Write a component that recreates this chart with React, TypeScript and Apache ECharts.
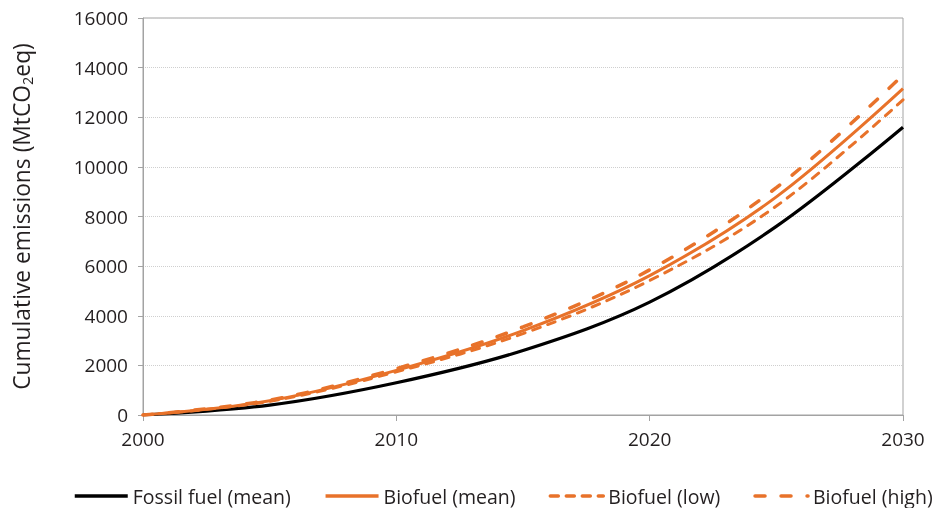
import React, { useEffect, useRef } from "react";
import * as echarts from "echarts";

const years = [2000, 2005, 2010, 2015, 2020, 2025, 2030];
const fossilMean = [0, 400, 1300, 2600, 4550, 7600, 11600];
const biofuelMean = [0, 575, 1800, 3400, 5620, 8790, 13150];
const biofuelLow = [0, 550, 1740, 3280, 5420, 8420, 12700];
const biofuelHigh = [0, 600, 1870, 3550, 5850, 9160, 13700];
const seriesNames = ["Fossil fuel (mean)", "Biofuel (mean)", "Biofuel (low)", "Biofuel (high)"];

const FONT = "'Open Sans', 'Noto Sans', sans-serif";
const ORANGE = "#e8722a";
const AXIS = "#a3a3a3";
const TEXT = "#231f20";

function pairs(vals: number[]) {
  return years.map((y, i) => [y, vals[i]]);
}

export default function App() {
  const ref = useRef<HTMLDivElement>(null);
  useEffect(() => {
    if (!ref.current) return;
    const chart = echarts.init(ref.current, null, { renderer: "svg" });
    const common = { type: "line", smooth: 0.35, showSymbol: false, symbol: "none" };
    chart.setOption({
      animation: false,
      textStyle: { fontFamily: FONT },
      grid: { left: 143, right: 41, top: 18, bottom: 93, show: true, borderColor: AXIS, borderWidth: 1 },
      legend: {
        top: 481,
        left: 68,
        itemWidth: 53,
        itemHeight: 14,
        itemGap: 33,
        itemStyle: { opacity: 0, borderWidth: 0 },
        lineStyle: { width: 3.5 },
        textStyle: { fontSize: 19.5, color: TEXT, fontFamily: FONT },
        data: seriesNames,
      },
      xAxis: {
        type: "value",
        min: 2000,
        max: 2030,
        interval: 10,
        axisLine: { show: true, lineStyle: { color: AXIS, width: 1 } },
        axisTick: { show: true, length: 6, lineStyle: { color: AXIS } },
        axisLabel: { fontSize: 19, color: TEXT, margin: 14, fontFamily: FONT, formatter: (v: number) => String(v) },
        splitLine: { show: false },
      },
      yAxis: {
        type: "value",
        min: 0,
        max: 16000,
        interval: 2000,
        name: "{a|Cumulative emissions (MtCO}{s|2}{a|eq)}",
        nameLocation: "middle",
        nameGap: 108,
        nameRotate: 90,
        nameTextStyle: {
          rich: {
            a: { fontSize: 22.8, lineHeight: 28, color: TEXT, fontFamily: FONT, verticalAlign: "middle" },
            s: { fontSize: 14.5, lineHeight: 28, color: TEXT, fontFamily: FONT, verticalAlign: "bottom" },
          },
        },
        axisLine: { show: true, lineStyle: { color: AXIS, width: 1 } },
        axisTick: { show: true, length: 5, lineStyle: { color: AXIS } },
        axisLabel: { fontSize: 19, color: TEXT, margin: 15, fontFamily: FONT, formatter: (v: number) => String(v) },
        splitLine: { show: true, lineStyle: { color: "#cfcfcf", type: "dotted", width: 1 } },
      },
      series: [
        { ...common, name: seriesNames[0], data: pairs(fossilMean), z: 2, itemStyle: { color: "#000" }, lineStyle: { color: "#000", width: 3.2 } },
        { ...common, name: seriesNames[1], data: pairs(biofuelMean), z: 3, itemStyle: { color: ORANGE }, lineStyle: { color: ORANGE, width: 3 } },
        { ...common, name: seriesNames[2], data: pairs(biofuelLow), z: 3, itemStyle: { color: ORANGE }, lineStyle: { color: ORANGE, width: 3, type: [8, 8], cap: "round" } },
        { ...common, name: seriesNames[3], data: pairs(biofuelHigh), z: 3, itemStyle: { color: ORANGE }, lineStyle: { color: ORANGE, width: 3.5, type: [10, 16], cap: "round" } },
      ],
    });
    return () => chart.dispose();
  }, []);
  return <div ref={ref} style={{ position: "fixed", left: 0, top: 0, width: 944, height: 508 }} />;
}
